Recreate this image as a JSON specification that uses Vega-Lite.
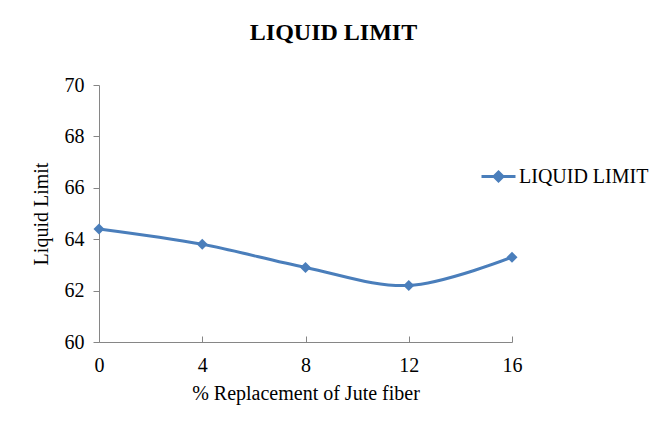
{
  "$schema": "https://vega.github.io/schema/vega-lite/v6.json",
  "width": 413,
  "height": 257,
  "autosize": {"type": "none"},
  "padding": {"left": 99, "top": 85, "right": 145, "bottom": 103},
  "background": "white",
  "title": {
    "text": "LIQUID LIMIT",
    "font": "Liberation Serif",
    "fontSize": 24,
    "fontWeight": "bold",
    "color": "#000000",
    "anchor": "middle",
    "dx": 28,
    "baseline": "alphabetic",
    "offset": 11
  },
  "data": {
    "values": [
      {"x": 0, "y": 64.4, "series": "LIQUID LIMIT"},
      {"x": 4, "y": 63.8, "series": "LIQUID LIMIT"},
      {"x": 8, "y": 62.9, "series": "LIQUID LIMIT"},
      {"x": 12, "y": 62.2, "series": "LIQUID LIMIT"},
      {"x": 16, "y": 63.3, "series": "LIQUID LIMIT"}
    ]
  },
  "mark": {
    "type": "line",
    "interpolate": "catmull-rom",
    "strokeWidth": 3,
    "point": {"shape": "diamond", "size": 120, "filled": true}
  },
  "encoding": {
    "x": {
      "field": "x",
      "type": "quantitative",
      "scale": {"domain": [0, 16], "nice": false, "zero": false},
      "axis": {
        "values": [0, 4, 8, 12, 16],
        "title": "% Replacement of Jute fiber",
        "tickSize": -6,
        "labelPadding": 19,
        "labelFlush": false,
        "labelFont": "Liberation Serif",
        "labelFontSize": 20,
        "titlePadding": 8
      }
    },
    "y": {
      "field": "y",
      "type": "quantitative",
      "scale": {"domain": [60, 70], "nice": false, "zero": false},
      "axis": {
        "values": [60, 62, 64, 66, 68, 70],
        "title": "Liquid Limit",
        "tickSize": 6,
        "labelPadding": 9,
        "labelFont": "Liberation Serif",
        "labelFontSize": 20,
        "titlePadding": 13
      }
    },
    "color": {
      "field": "series",
      "type": "nominal",
      "scale": {"range": ["#4A7EBB"]},
      "legend": {
        "title": null,
        "orient": "none",
        "legendX": 381,
        "legendY": 73,
        "padding": 0,
        "symbolType": "M-1,0H1M0,-0.26L0.26,0L0,0.26L-0.26,0Z",
        "symbolSize": 1156,
        "symbolStrokeWidth": 3,
        "symbolFillColor": "#4A7EBB",
        "symbolStrokeColor": "#4A7EBB",
        "labelFont": "Liberation Serif",
        "labelFontSize": 20,
        "labelColor": "#000000",
        "labelOffset": 2,
        "labelLimit": 300
      }
    }
  },
  "config": {
    "font": "Liberation Serif",
    "view": {"stroke": null},
    "axis": {
      "grid": false,
      "domainColor": "#868686",
      "tickColor": "#868686",
      "domainWidth": 1,
      "tickWidth": 1,
      "labelFont": "Liberation Serif",
      "labelFontSize": 20,
      "labelColor": "#000000",
      "titleFont": "Liberation Serif",
      "titleFontSize": 20,
      "titleFontWeight": "normal",
      "titleColor": "#000000"
    }
  }
}
